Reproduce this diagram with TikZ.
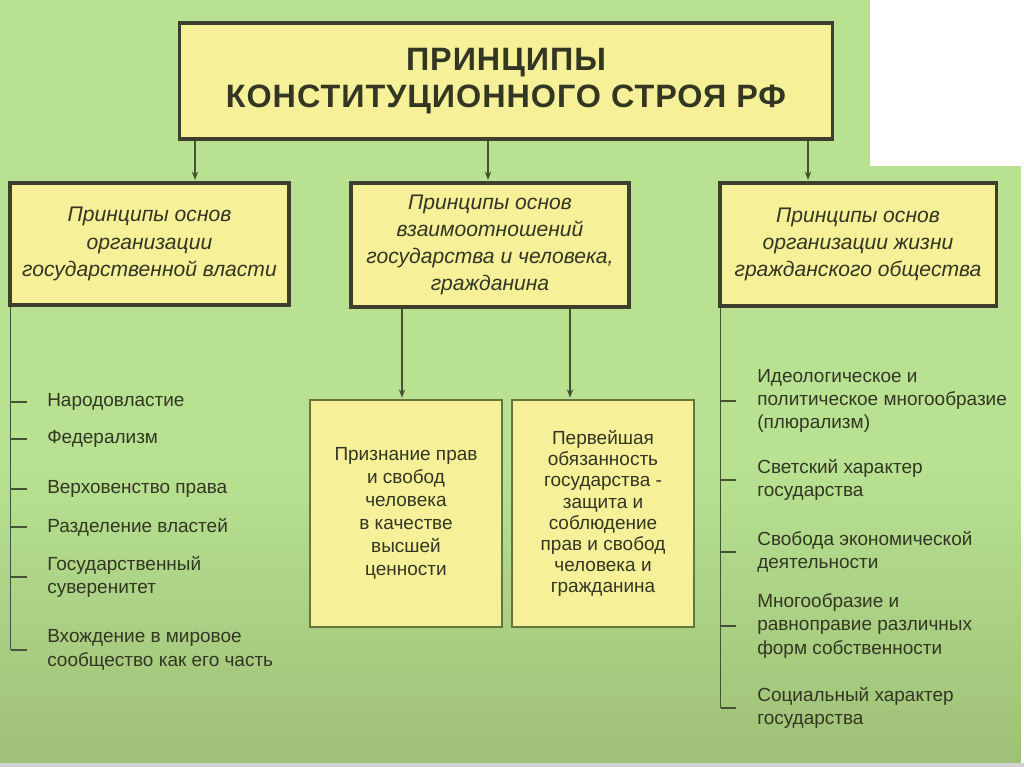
\documentclass[tikz,border=0pt]{standalone}
\usepackage{fontspec}
\setmainfont{Liberation Sans}
\usetikzlibrary{positioning,arrows.meta}
\definecolor{bgtop}{RGB}{184,226,146}
\definecolor{bgbot}{RGB}{158,192,118}
\definecolor{boxfill}{RGB}{246,240,152}
\definecolor{boxline}{RGB}{62,62,44}
\definecolor{subline}{RGB}{104,118,62}
\definecolor{wirecol}{RGB}{70,82,52}
\definecolor{ink}{RGB}{50,54,34}
\tikzset{
  headbox/.style={draw=boxline, line width=2.2pt, fill=boxfill, text=ink, align=center},
  groupbox/.style={headbox, font=\itshape\fontsize{15}{19.4}\selectfont},
  subbox/.style={draw=subline, line width=1.3pt, fill=boxfill, text=ink, align=center},
  item/.style={anchor=west, text=ink, align=left, inner sep=0pt, font=\fontsize{13.5}{16.6}\selectfont},
  arr/.style={draw=wirecol, line width=0.9pt, shorten >=1pt, -{Stealth[length=6pt,width=4.5pt]}},
  wire/.style={draw=wirecol, line width=1.3pt}
}

\begin{document}
\begin{tikzpicture}[x=0.025cm, y=-0.025cm]
\useasboundingbox (0,0) rectangle (1024,767);
% background
\fill[bgtop] (0,0) rectangle (1024,767);
\shade[top color=bgtop, bottom color=bgbot] (0,460) rectangle (1024,767);
\fill[white] (870,0) rectangle (1024,166);
\fill[white] (1021,166) rectangle (1024,767);
\fill[gray!35] (0,763) rectangle (1024,767);

% boxes
\node[headbox, minimum width=16.3cm, minimum height=2.9cm,
      font=\bfseries\fontsize{23}{26.3}\selectfont\addfontfeature{LetterSpace=3}] (title) at (506,81)
  {ПРИНЦИПЫ\\КОНСТИТУЦИОННОГО СТРОЯ РФ};
\node[groupbox, minimum width=6.975cm, minimum height=3.05cm] (lb) at (149.5,244)
  {Принципы основ\\организации\\государственной власти};
\node[groupbox, minimum width=6.95cm, minimum height=3.1cm] (mb) at (490,245)
  {Принципы основ\\взаимоотношений\\государства и человека,\\гражданина};
\node[groupbox, minimum width=6.9cm, minimum height=3.075cm] (rb) at (858,244.5)
  {Принципы основ\\организации жизни\\гражданского общества};
\node[subbox, minimum width=4.8cm, minimum height=5.675cm,
      font=\fontsize{13.5}{16.4}\selectfont] (sl) at (406,513.5)
  {Признание прав\\и свобод\\человека\\в качестве\\высшей\\ценности};
\node[subbox, minimum width=4.55cm, minimum height=5.675cm,
      font=\fontsize{13.5}{15}\selectfont] (sr) at (603,513.5)
  {Первейшая\\обязанность\\государства -\\защита и\\соблюдение\\прав и свобод\\человека и\\гражданина};

% arrows
\coordinate (c1) at (195,0);
\coordinate (c2) at (488,0);
\coordinate (c3) at (808,0);
\coordinate (c4) at (402,0);
\coordinate (c5) at (570,0);
\draw[arr] (title.south -| c1) -- (lb.north -| c1);
\draw[arr] (title.south -| c2) -- (mb.north -| c2);
\draw[arr] (title.south -| c3) -- (rb.north -| c3);
\draw[arr] (mb.south -| c4) -- (sl.north -| c4);
\draw[arr] (mb.south -| c5) -- (sr.north -| c5);

% left list
\node[item] (l1) at (47,402) {Народовластие};
\node[item] (l2) at (47,439) {Федерализм};
\node[item] (l3) at (47,489) {Верховенство права};
\node[item] (l4) at (47,527) {Разделение властей};
\node[item] (l5) at (47,577) {Государственный\\суверенитет};
\node[item] (l6) at (47,650) {Вхождение в мировое\\сообщество как его часть};
\coordinate (ls) at ([xshift=1.5pt]lb.south west);
\draw[wire] (ls) -- (ls |- l6.west);
\foreach \n in {1,...,6}
  \draw[wire] (ls |- l\n.west) -- ++(16,0);

% right list
\node[item] (r1) at (757,401) {Идеологическое и\\политическое многообразие\\(плюрализм)};
\node[item] (r2) at (757,480) {Светский характер\\государства};
\node[item] (r3) at (757,552) {Свобода экономической\\деятельности};
\node[item] (r4) at (757,626) {Многообразие и\\равноправие различных\\форм собственности};
\node[item] (r5) at (757,708) {Социальный характер\\государства};
\coordinate (rs) at ([xshift=1.5pt]rb.south west);
\draw[wire] (rs) -- (rs |- r5.west);
\foreach \n in {1,...,5}
  \draw[wire] (rs |- r\n.west) -- ++(15,0);
\end{tikzpicture}
\end{document}
